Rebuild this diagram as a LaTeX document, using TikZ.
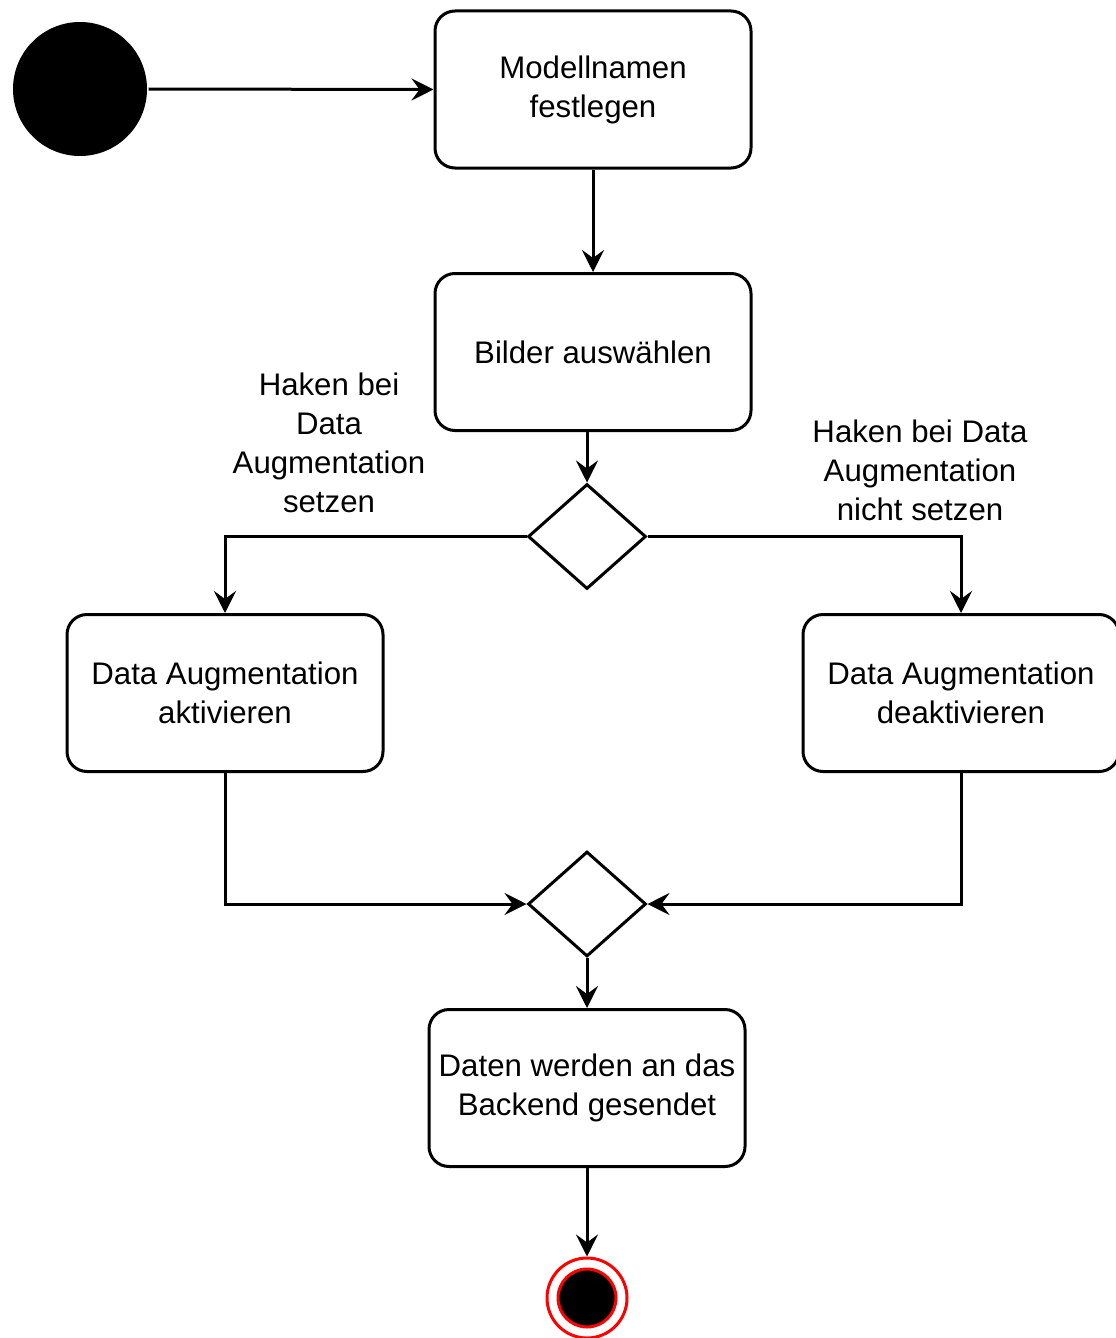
\documentclass[tikz,border=0pt]{standalone}
\usepackage{fontspec}
\setmainfont{Liberation Sans}
\usetikzlibrary{arrows.meta,shapes.geometric}

\tikzset{every picture/.style={line width=1.5pt}}
\tikzset{
  actbox/.style={draw, rectangle, rounded corners=10pt, minimum width=158pt, minimum height=78.5pt, inner sep=0pt, align=center},
  choice/.style={draw, diamond, minimum width=59pt, minimum height=52.5pt, inner sep=0pt},
  flow/.style={-{Stealth[length=11pt,width=11pt,inset=4pt]}},
  guard/.style={align=center}
}

\begin{document}
\begin{tikzpicture}[x=0.5pt,y=0.5pt,yscale=-1,xscale=1,font=\fontsize{15.6}{19.5}\selectfont]
\useasboundingbox (0,0) rectangle (1115,1338);

%Start node
\node [circle, fill=black, minimum size=67pt, inner sep=0pt] (start) at (80,89) {};

%Activity nodes
\node [actbox] (name) at (593,89.5) {Modellnamen\\festlegen};
\node [actbox] (pics) at (593,352) {Bilder auswählen};
\node [actbox] (augon) at (225,693) {Data Augmentation\\aktivieren};
\node [actbox] (augoff) at (961,693) {Data Augmentation\\deaktivieren};
\node [actbox] (send) at (587,1088) {Daten werden an das\\Backend gesendet};

%Decision and merge
\node [choice] (split) at (587,536.5) {};
\node [choice] (merge) at (587,904) {};

%End node
\node [circle, draw=red, line width=1.5pt, minimum size=40pt, inner sep=0pt] (stop) at (587,1298) {};
\node [circle, fill=black, draw=red, line width=1.5pt, minimum size=29pt, inner sep=0pt] (stopdot) at (stop) {};

%Guards
\node [guard] (gon) at (329,443) {Haken bei\\Data\\Augmentation\\setzen};
\node [guard] (goff) at (920,470) {Haken bei Data\\Augmentation\\nicht setzen};

%Connectors
\draw [flow] (start.east) -- (name.west);
\draw [flow] (name.south) -- (pics.north);
\draw [flow] (pics.south -| split.north) -- (split.north);
\draw [flow] (split.west) -| (augon.north);
\draw [flow] (split.east) -| (augoff.north);
\draw [flow] (augon.south) |- (merge.west);
\draw [flow] (augoff.south) |- (merge.east);
\draw [flow] (merge.south) -- (send.north);
\draw [flow] (send.south) -- (stop.north);

\end{tikzpicture}
\end{document}
